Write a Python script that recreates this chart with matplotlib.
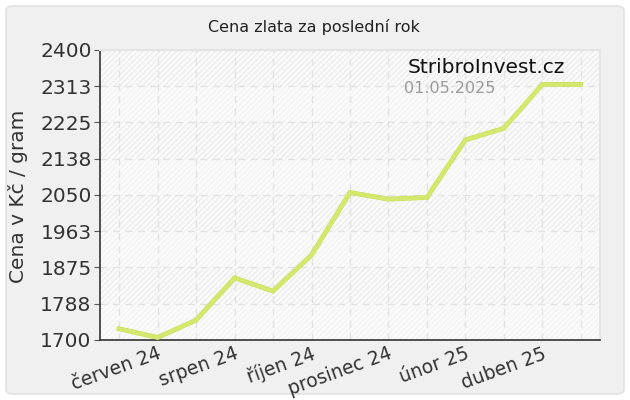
import matplotlib
matplotlib.use("Agg")
import matplotlib.pyplot as plt
from matplotlib.patches import FancyBboxPatch
import matplotlib.patheffects as pe

months = ["květen 24", "červen 24", "červenec 24", "srpen 24", "září 24", "říjen 24",
          "listopad 24", "prosinec 24", "leden 25", "únor 25", "březen 25", "duben 25", "květen 25"]
prices = [1727, 1706, 1748, 1850, 1818, 1905, 2056, 2040, 2044, 2183, 2211, 2317, 2317]
yticks = [1700, 1788, 1875, 1963, 2050, 2138, 2225, 2313, 2400]
title = "Cena zlata za poslední rok"
ylabel = "Cena v Kč / gram"
brand = "StribroInvest.cz"
date = "01.05.2025"

plt.rcParams['font.family'] = ['DejaVu Sans']
fig = plt.figure(figsize=(6.3, 4.0), dpi=100)
fig.patch.set_facecolor('white')
bg = FancyBboxPatch((6/630, 6/400), 618/630, 388/400,
                    boxstyle="round,pad=0,rounding_size=0.012",
                    transform=fig.transFigure, facecolor='#f0f0f0',
                    edgecolor='#e2e2e2', linewidth=1.2, zorder=-10)
fig.patches.append(bg)

ax = fig.add_axes([100/630, 60/400, 500/630, 290/400])
ax.set_zorder(5)
ax.set_facecolor('#fbfbfb')
x = list(range(len(prices)))
ax.set_xlim(-0.5, len(prices) - 0.5)
ax.set_ylim(yticks[0], yticks[-1])

# alternating hatched bands
for i in range(len(yticks) - 1):
    col = '#ececec' if i % 2 == 1 else '#f2f2f2'
    ax.axhspan(yticks[i], yticks[i + 1], facecolor='none', edgecolor=col,
               hatch='//////', linewidth=0, zorder=0)

ax.set_yticks(yticks)
ax.set_yticklabels([str(v) for v in yticks], fontsize=14.5, color='#333333')
ax.set_xticks(x)
ax.set_xticklabels([m if i % 2 == 1 else "" for i, m in enumerate(months)],
                   fontsize=13.5, color='#333333', rotation=20, ha='right',
                   rotation_mode='anchor')
ax.tick_params(axis='y', length=4, color='#555555', pad=2)
ax.tick_params(axis='x', length=0, pad=3)
ax.grid(True, color='#e2e2e2', linestyle=(0, (5, 4)), linewidth=1)
ax.set_axisbelow(True)

for s in ['top', 'right']:
    ax.spines[s].set_color('#e4e4e4')
    ax.spines[s].set_linewidth(1.5)
for s in ['left', 'bottom']:
    ax.spines[s].set_color('#333333')
    ax.spines[s].set_linewidth(1.2)

ax.plot(x, prices, color='#d3e86c', linewidth=2.8, solid_joinstyle='miter', zorder=3,
        path_effects=[pe.Stroke(linewidth=3.4, foreground='#c6de4a'), pe.Normal()])

ax.text(0.772, 0.938, brand, transform=ax.transAxes, fontsize=14.5, color='#111111',
        ha='center', va='center')
ax.text(0.608, 0.866, date, transform=ax.transAxes, fontsize=11.5, color='#9a9a9a',
        ha='left', va='center')

fig.text(314/630, 1 - 27/400, title, ha='center', va='center', fontsize=11.5, color='#222222')
fig.text(18/630, 1 - 196/400, ylabel, ha='center', va='center', rotation=90,
         fontsize=14.5, color='#333333')

fig.savefig('out.png', dpi=100, facecolor=fig.get_facecolor())
